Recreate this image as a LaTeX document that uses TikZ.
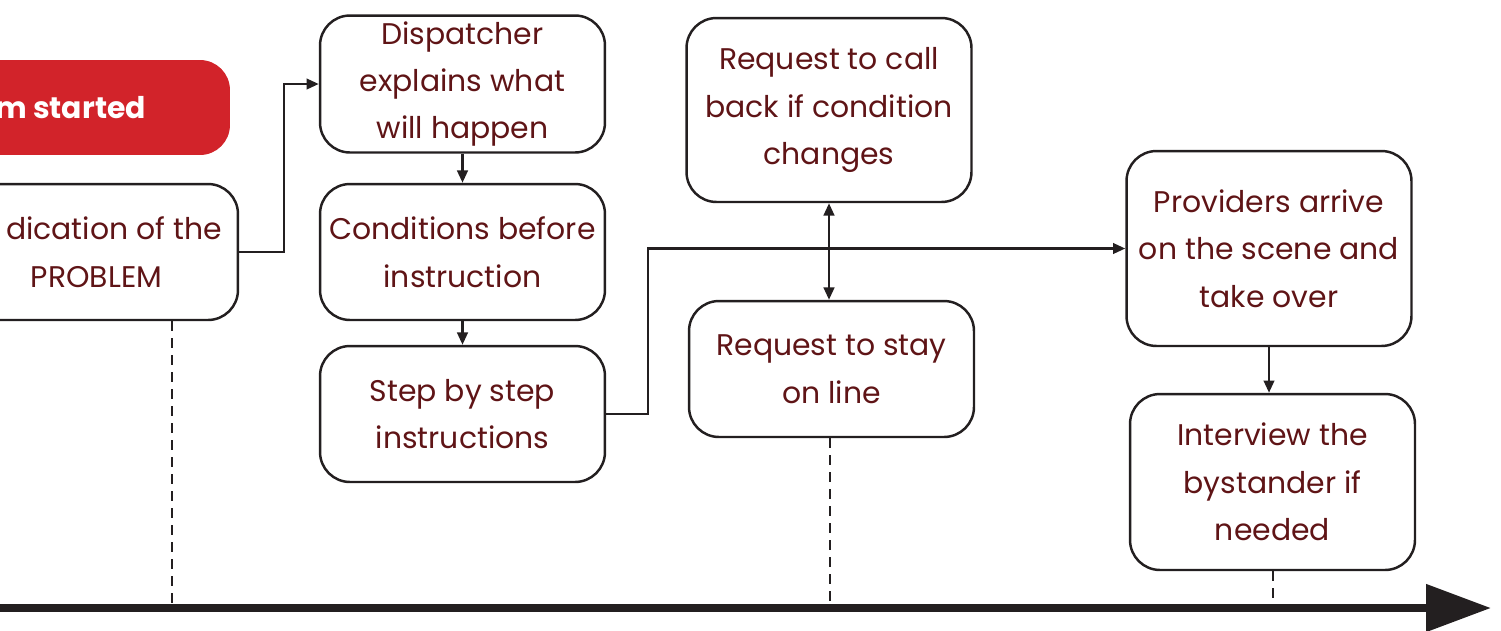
\documentclass[tikz,border=0pt]{standalone}
\usepackage{fontspec}
\setmainfont{Poppins}
\usetikzlibrary{arrows.meta}

\definecolor{stepred}{RGB}{95,20,22}
\definecolor{bannerred}{RGB}{210,35,42}
\definecolor{linegray}{RGB}{35,31,32}

\begin{document}
\begin{tikzpicture}[x=0.02cm, y=-0.02cm,
    every node/.style={rectangle, rounded corners=0.6cm, draw=linegray, line width=1.4pt,
        text=stepred, font=\fontsize{17}{27}\selectfont, align=center,
        minimum width=5.7cm, minimum height=2.72cm, inner sep=0pt},
    flow/.style={-{Triangle[length=7pt, width=6pt]}, draw=linegray, line width=1.4pt},
    tick/.style={draw=linegray, line width=1.1pt, dash pattern=on 0.2cm off 0.14cm}]
    \useasboundingbox (0,0) rectangle (1501,630);

    % Banner (runs off the left edge)
    \node[fill=bannerred, draw=none, text=white, font=\fontsize{17}{27}\selectfont\bfseries,
        minimum width=6.6cm, minimum height=1.9cm] (start) at (65,107.5) {\hspace*{0.22cm}m started};
    \node[minimum width=5.66cm] (problem) at (96.5,252) {\hspace*{0.7cm}dication of the\\PROBLEM};

    % Dispatcher column
    \node[minimum height=2.74cm] (explain) at (462.5,84) {Dispatcher\\explains what\\will happen};
    \node[] (cond) at (462.5,252) {Conditions before\\instruction};
    \node[] (steps) at (462.5,414) {Step by step\\instructions};

    % Caller requests
    \node[minimum height=3.68cm] (callback) at (829,110) {Request to call\\back if condition\\changes};
    \node[] (stay) at (831.5,369) {Request to stay\\on line};

    % Hand over
    \node[minimum height=3.9cm] (arrive) at (1269,248.5) {Providers arrive\\on the scene and\\take over};
    \node[minimum height=3.52cm] (interview) at (1272.5,482) {Interview the\\bystander if\\needed};

    % Connections
    \draw[flow] (problem.east) -- ++(45,0) |- (explain.west);
    \draw[flow] (explain) -- (cond);
    \draw[flow] (cond) -- (steps);
    \draw[flow] (steps.east) -- ++(42,0) |- (arrive.west);
    \draw[flow, {Triangle[length=7pt, width=6pt]}-{Triangle[length=7pt, width=6pt]}]
        (callback.south) -- (callback.south |- stay.north);
    \draw[flow] (arrive.south) -- (arrive.south |- interview.north);

    % Time axis with marks
    \coordinate (t0) at (-5,608);
    \coordinate (t1) at (1491,608);
    \foreach \x [count=\k] in {172,830,1273} {
        \coordinate (m\k) at (\x,608);
    }
    \draw[tick] (m1 |- problem.south) -- (m1);
    \draw[tick] (m2 |- stay.south) -- (m2);
    \draw[tick] (m3 |- interview.south) -- (m3);
    \draw[linegray, line width=0.16cm, -{Triangle[length=1.3cm, width=0.92cm]}] (t0) -- (t1);
\end{tikzpicture}
\end{document}
